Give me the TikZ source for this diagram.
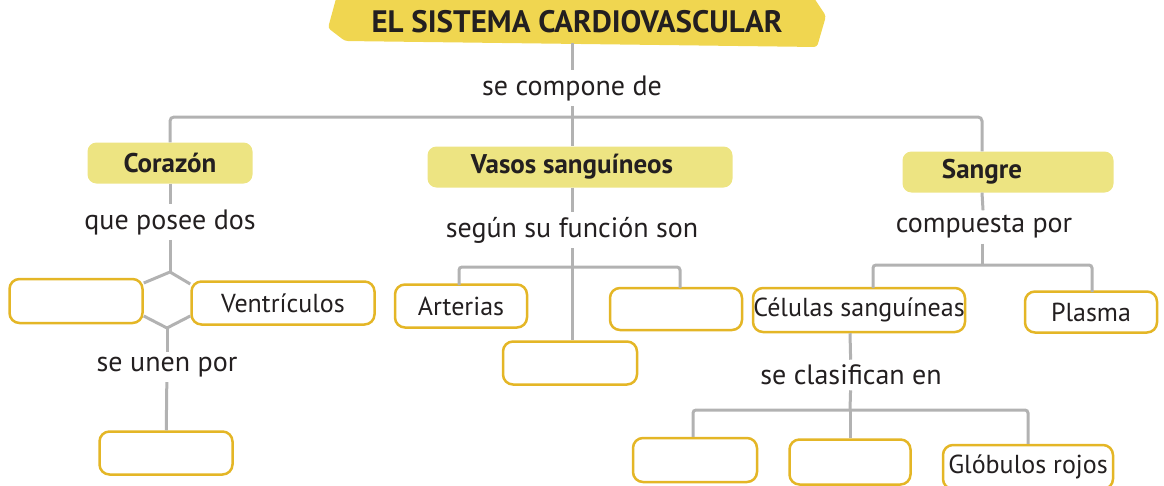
\documentclass[tikz,border=0pt]{standalone}
\usepackage{fontspec}
\setmainfont{PT Sans}
\usetikzlibrary{calc}
\definecolor{titlefill}{RGB}{240,214,80}
\definecolor{catfill}{RGB}{237,228,130}
\definecolor{boxline}{RGB}{228,182,38}
\definecolor{conn}{RGB}{178,178,178}
\definecolor{ink}{RGB}{35,31,32}
\tikzset{
  conline/.style={draw=conn, line width=3pt},
  linktext/.style={text=ink, font=\fontsize{28}{33}\selectfont, inner sep=5pt},
  catbox/.style={fill=catfill, rounded corners=9pt, minimum height=41pt, inner sep=0pt, text=ink, font=\fontsize{27}{32}\selectfont\bfseries},
  ansbox/.style={draw=boxline, fill=white, line width=2.5pt, rounded corners=10pt, inner sep=0pt, text=ink, font=\fontsize{26}{31}\selectfont},
}
\begin{document}
\begin{tikzpicture}[x=1pt,y=-1pt]
\useasboundingbox (0,0) rectangle (1164,485);
\clip (0,0) rectangle (1164,485);
% title banner
\fill[titlefill, rounded corners=3pt] (337,-5) -- (328,28) -- (345,41) -- (817,47) -- (826,16) -- (812,-5) -- cycle;
\node[text=ink, font=\fontsize{31}{36}\selectfont\bfseries, inner sep=0pt, minimum height=42pt] (title) at (577,22) {EL SISTEMA CARDIOVASCULAR};
\node[linktext] (l0) at (572,88) {se compone de};
\coordinate (j0) at (572,117);
% categories
\node[catbox, minimum width=165pt] (cor) at (170,163) {Corazón};
\node[catbox, minimum width=305pt] (vas) at (580,167) {\hspace*{-16pt}Vasos sanguíneos};
\node[catbox, minimum width=211pt] (san) at (1008,172) {\hspace*{-52pt}Sangre};
\coordinate (sanT) at ($(san.north)+(-26,0)$);
\coordinate (vasT) at ($(vas.north)+(-8,0)$);
\draw[conline] (title.south -| l0) -- (l0);
\draw[conline] (l0) -- (j0);
\draw[conline, rounded corners=4pt] (cor.north) |- (j0) -| (sanT);
\draw[conline] (j0) -- (vasT);
% Corazon branch
\node[linktext] (l1) at (170,222) {que posee dos};
\coordinate (hxT) at (170,272);
\coordinate (hxB) at (167,328);
\node[ansbox, minimum width=133pt, minimum height=44pt] (a1) at (76,301) {};
\node[ansbox, minimum width=183pt, minimum height=43pt] (ven) at (283,303) {Ventrículos};
\draw[conline] (cor.south) -- (l1);
\draw[conline] (l1) -- (hxT);
\node[linktext] (l2) at (167,367) {se unen por};
\node[ansbox, minimum width=133pt, minimum height=43pt] (a2) at (166,453) {};
\draw[conline] (hxB) -- (l2);
\draw[conline] (l2) -- (a2);
% Vasos branch
\node[linktext] (l3) at (572,230) {según su función son};
\coordinate (j3) at (572,267);
\node[ansbox, minimum width=132pt, minimum height=43pt] (art) at (461,306) {Arterias};
\node[ansbox, minimum width=132pt, minimum height=42pt] (a3) at (676,309) {};
\node[ansbox, minimum width=134pt, minimum height=43pt] (a4) at (570,363) {};
\coordinate (artT) at (459,285);
\coordinate (a3T) at (680,288);
\draw[conline] (vasT |- vas.south) -- (l3);
\draw[conline] (l3) -- (j3);
\draw[conline, rounded corners=3pt] (artT) |- (j3) -| (a3T);
\draw[conline] (j3) -- (a4.north -| j3);
% Sangre branch
\node[linktext] (l4) at (984,227) {compuesta por};
\coordinate (j4) at (982,265);
\node[ansbox, minimum width=212pt, minimum height=44pt] (cel) at (859,310) {Células sanguíneas};
\node[ansbox, minimum width=132pt, minimum height=41pt] (pla) at (1091,312) {Plasma};
\coordinate (celT) at (873,288);
\coordinate (plaT) at (1092,292);
\draw[conline] (sanT |- san.south) -- (l4);
\draw[conline] (l4.south -| j4) -- (j4);
\draw[conline, rounded corners=3pt] (celT) |- (j4) -| (plaT);
\node[linktext] (l5) at (851,375) {se clasifican en};
\coordinate (j5) at (850,410);
\node[ansbox, minimum width=124pt, minimum height=44pt] (g1) at (695,460) {};
\node[ansbox, minimum width=121pt, minimum height=45pt] (g2) at (850,462) {};
\node[ansbox, minimum width=170pt, minimum height=44pt] (g3) at (1028,467) {Glóbulos rojos};
\draw[conline] (cel.south -| j5) -- (l5);
\draw[conline] (l5) -- (j5);
\draw[conline, rounded corners=3pt] (g1.north -| 693,0) |- (j5) -| (g3.north);
\draw[conline] (j5) -- (g2.north);
% hexagon junction: lines end at the box borders
\draw[conline] (a1.east |- 0,283) -- (hxT) -- (ven.west |- 0,284);
\draw[conline] (a1.east |- 0,316) -- (hxB) -- (ven.west |- 0,316);
\end{tikzpicture}
\end{document}
